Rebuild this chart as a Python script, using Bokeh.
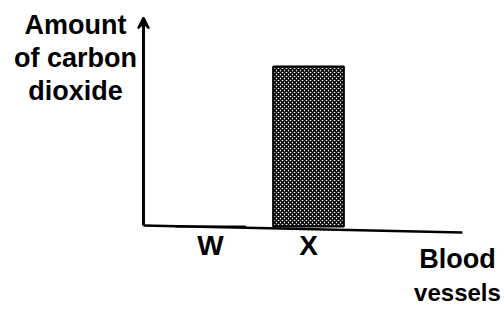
from bokeh.plotting import figure
from bokeh.models import Range1d, Arrow, VeeHead, ColumnDataSource
from bokeh.core.properties import value
from bokeh.embed import file_html
from bokeh.resources import INLINE

# data
categories = ["W", "X"]
cat_pos = [1, 2]
amounts = [0, 8]
y_label_lines = ["Amount", "of carbon", "dioxide"]
x_label_lines = ["Blood", "vessels"]

W, H = 504, 311
p = figure(width=W, height=H, output_backend="svg", toolbar_location=None,
           x_range=Range1d(-1.143, 4.0), y_range=Range1d(-4.25, 11.3),
           min_border=0, outline_line_color=None)
p.axis.visible = False
p.grid.visible = False
p.background_fill_color = "white"

FONT = value("Liberation Sans")

# bar
src = ColumnDataSource(dict(x=cat_pos, top=amounts))
p.vbar(x="x", top="top", bottom=0, width=0.72, source=src,
       fill_color="white", line_color="black", line_width=2.2,
       hatch_pattern="x", hatch_scale=4.0, hatch_weight=1.6, hatch_color="black")

# axes
x0 = 0.316
p.add_layout(Arrow(end=VeeHead(size=11, line_color="black", fill_color="black", line_width=2),
                   x_start=x0, y_start=0.05, x_end=x0, y_end=10.45, line_width=3, line_color="black"))
p.segment(x0=[x0], y0=[0.05], x1=[3.571], y1=[-0.3], line_width=2.5, line_color="black")

# category labels
p.text(x=cat_pos, y=[-0.95] * len(cat_pos), text=categories, text_align="center",
       text_baseline="middle", text_font=FONT, text_font_size="28px", text_font_style="bold")

# y-axis label
p.text(x=[-0.378] * 3, y=[10.1, 8.45, 6.8], text=y_label_lines, text_align="center",
       text_baseline="alphabetic", text_font=FONT, text_font_size="27px", text_font_style="bold")

# x-axis label
p.text(x=[3.52], y=[-1.6], text=x_label_lines[:1], text_align="center",
       text_baseline="alphabetic", text_font=FONT, text_font_size="27px", text_font_style="bold")
p.text(x=[3.52], y=[-3.3], text=x_label_lines[1:], text_align="center",
       text_baseline="alphabetic", text_font=FONT, text_font_size="24px", text_font_style="bold")

open("out.html", "w").write(file_html(p, INLINE))
